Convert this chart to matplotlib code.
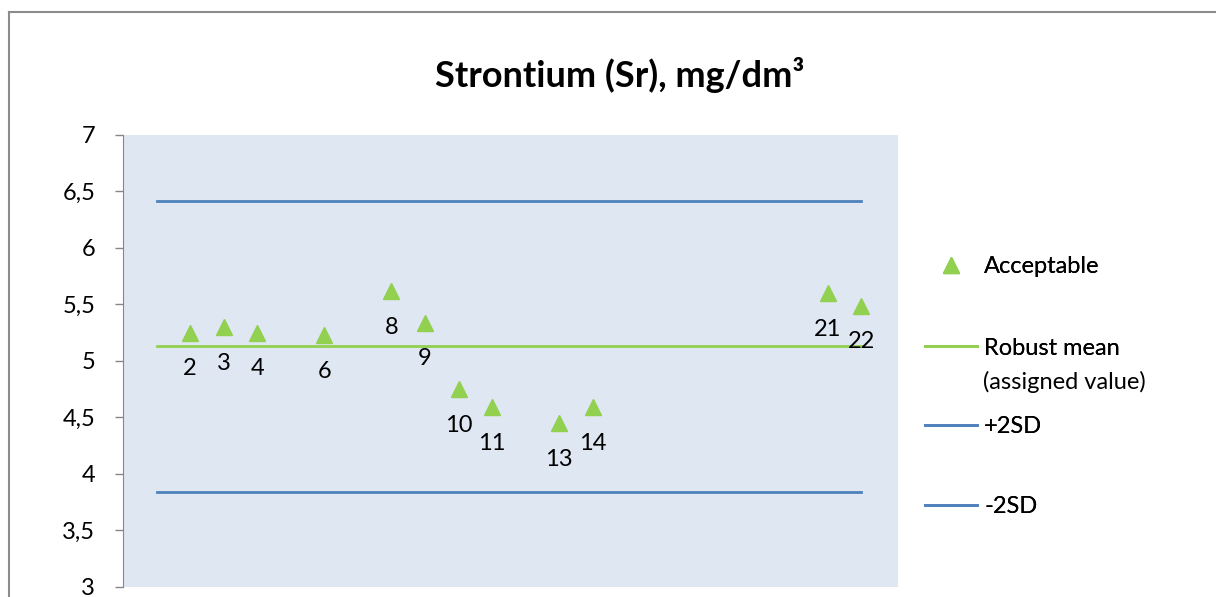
import matplotlib.pyplot as plt
from matplotlib.lines import Line2D
from matplotlib.ticker import FuncFormatter

# lab codes and their results
labs = [2, 3, 4, 6, 8, 9, 10, 11, 13, 14, 21, 22]
values = [5.25, 5.30, 5.25, 5.23, 5.62, 5.34, 4.75, 4.59, 4.45, 4.59, 5.60, 5.49]

line_x = [1, 22]
robust_mean = 5.13
plus_2sd = 6.42
minus_2sd = 3.84

plt.rcParams['font.family'] = ['Lato', 'DejaVu Sans']

fig = plt.figure(figsize=(12.16, 5.97), dpi=100)
ax = fig.add_axes([0.1012, 0.0168, 0.6373, 0.7571])
ax.set_facecolor('#DFE7F2')

blue = '#4F81BD'
green = '#92D050'

pts, = ax.plot(labs, values, linestyle='none', marker='^', ms=11,
               color=green, label='Acceptable', zorder=4)
mean_line, = ax.plot(line_x, [robust_mean] * 2, color=green, lw=2,
                     label='Robust mean')
up_line, = ax.plot(line_x, [plus_2sd] * 2, color=blue, lw=2, label='+2SD')
low_line, = ax.plot(line_x, [minus_2sd] * 2, color=blue, lw=2, label='-2SD')

for x, y in zip(labs, values):
    ax.annotate(str(x), (x, y), xytext=(0, -26), textcoords='offset points',
                ha='center', va='center', fontsize=17, color='black')

ax.set_xlim(0, 23.1)
ax.set_ylim(3, 7)
ax.set_yticks([3, 3.5, 4, 4.5, 5, 5.5, 6, 6.5, 7])
ax.yaxis.set_major_formatter(FuncFormatter(lambda v, p: f'{v:g}'.replace('.', ',')))
ax.tick_params(axis='y', labelsize=17, length=6, width=1, color='#868686',
               direction='out', pad=14)
ax.set_xticks([])
for s in ['top', 'right', 'bottom']:
    ax.spines[s].set_visible(False)
ax.spines['left'].set_color('#868686')

fig.text(0.51, 0.875, 'Strontium (Sr), mg/dm³', ha='center', va='center',
         fontsize=26, fontweight='bold')

# legend entries placed one by one, spacing as in the original
entries = [(pts, 0.553), (mean_line, 0.417), (up_line, 0.285), (low_line, 0.151)]
for h, y in entries:
    leg = fig.legend(handles=[h], loc='center left', bbox_to_anchor=(0.753, y),
                     frameon=False, fontsize=17, handlelength=2.2,
                     handletextpad=0.3, borderaxespad=0)
    fig.add_artist(leg)
fig.text(0.8085, 0.36, '(assigned value)', ha='left', va='center', fontsize=17)

# chart frame
fig.add_artist(Line2D([0.007, 0.007], [0, 0.98], color='#8C8C8C', lw=1.5,
                      transform=fig.transFigure))
fig.add_artist(Line2D([0.007, 1], [0.98, 0.98], color='#8C8C8C', lw=1.5,
                      transform=fig.transFigure))

fig.savefig('out.png', dpi=100)
